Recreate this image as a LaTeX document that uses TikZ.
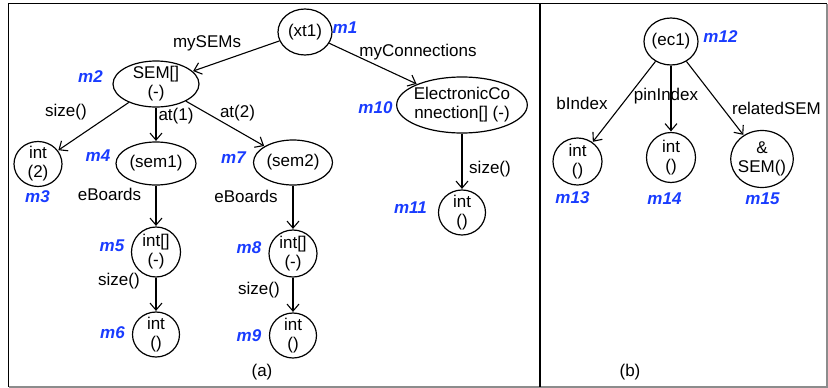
\documentclass[tikz,border=0pt]{standalone}
\usepackage{fontspec}
\setmainfont{Liberation Sans}
\usetikzlibrary{shapes.geometric,arrows.meta}
\definecolor{mblue}{RGB}{25,60,255}
\tikzset{
  obj/.style={ellipse, draw, line width=1.2pt, inner sep=-2pt, align=center,
              font=\fontsize{17}{19}\selectfont},
  lbl/.style={font=\fontsize{17}{19}\selectfont, inner sep=0pt},
  mlbl/.style={font=\fontsize{17}{19}\selectfont\bfseries\itshape, text=mblue, inner sep=0pt},
  conn/.style={draw, line width=1.1pt, -{Straight Barb[length=7pt,width=12pt,line width=1.1pt]}, shorten >=0.5pt}
}
\begin{document}
\begin{tikzpicture}[x=1pt,y=-1pt]
\useasboundingbox (0,0) rectangle (828,388);
% frame
\draw[line width=1.4pt] (8.5,387) -- (8.5,3.5) -- (827,3.5);
\draw[line width=1.2pt, black!45] (8.5,387) -- (827,387) -- (827,3.5);
\draw[line width=1.4pt] (540,3.5) -- (540,387);

% nodes (a)
\node[obj, minimum width=54pt, minimum height=46pt] (xt1) at (305,32) {(xt1)};
\node[obj, minimum width=86pt, minimum height=46pt] (sem) at (156,84) {SEM[]\\(-)};
\node[obj, minimum width=48pt, minimum height=45pt] (m3) at (38,164) {int\\(2)};
\node[obj, minimum width=80pt, minimum height=43pt] (sem1) at (156,163.5) {(sem1)};
\node[obj, minimum width=79pt, minimum height=45pt] (sem2) at (293,162.5) {(sem2)};
\node[obj, minimum width=49pt, minimum height=50pt] (m5) at (156,252) {int[]\\(-)};
\node[obj, minimum width=47pt, minimum height=45pt] (m6) at (156,334.5) {int\\()};
\node[obj, minimum width=48pt, minimum height=47pt] (m8) at (293,253.5) {int[]\\(-)};
\node[obj, minimum width=47pt, minimum height=45pt] (m9) at (293,335.5) {int\\()};
\node[obj, minimum width=130pt, minimum height=56pt] (ec) at (462,105) {ElectronicCo\\nnection[] (-)};
\node[obj, minimum width=47pt, minimum height=45pt] (m11) at (462,212.5) {int\\()};

% nodes (b)
\node[obj, minimum width=54pt, minimum height=47pt] (ec1) at (671,41.5) {(ec1)};
\node[obj, minimum width=49pt, minimum height=47pt] (m13) at (577.5,161.5) {int\\()};
\node[obj, minimum width=49pt, minimum height=50pt] (m14) at (671,157.5) {int\\()};
\node[obj, minimum width=62pt, minimum height=57pt] (m15) at (762,159) {\&\\SEM()};

% connectors
\draw[conn] (xt1) -- (sem);
\draw[conn] (xt1) -- (ec);
\draw[conn] (sem) -- (m3);
\draw[conn] (sem) -- (sem1);
\draw[conn] (sem) -- (sem2);
\draw[conn] (sem1) -- (m5);
\draw[conn] (m5) -- (m6);
\draw[conn] (sem2) -- (m8);
\draw[conn] (m8) -- (m9);
\draw[conn] (ec) -- (m11);
\draw[conn] (ec1) -- (m13);
\draw[conn] (ec1) -- (m14);
\draw[conn] (ec1) -- (m15);

% connector labels
\node[lbl] (l1) at (207,43) {mySEMs};
\node[lbl] (l2) at (418,52) {myConnections};
\node[lbl] (l3) at (66,112) {size()};
\node[lbl] (l4) at (176,116) {at(1)};
\node[lbl] (l5) at (237.5,113) {at(2)};
\node[lbl] (l6) at (109.5,194) {eBoards};
\node[lbl] (l7) at (246,196) {eBoards};
\node[lbl] (l8) at (119,281) {size()};
\node[lbl] (l9) at (259,290) {size()};
\node[lbl] (l10) at (490,169) {size()};
\node[lbl] (l11) at (582,103) {bIndex};
\node[lbl] (l12) at (666,96) {pinIndex};
\node[lbl] (l13) at (776.5,108) {relatedSEM};
\node[lbl] (ca) at (262,372) {(a)};
\node[lbl] (cb) at (630,372) {(b)};

% m labels
\node[mlbl] (t1) at (345,27.5) {m1};
\node[mlbl] (t2) at (90.5,77) {m2};
\node[mlbl] (t3) at (37.5,197) {m3};
\node[mlbl] (t4) at (98,156) {m4};
\node[mlbl] (t5) at (112,246) {m5};
\node[mlbl] (t6) at (112.5,332.5) {m6};
\node[mlbl] (t7) at (233.5,157.5) {m7};
\node[mlbl] (t8) at (249,247.5) {m8};
\node[mlbl] (t9) at (249,336) {m9};
\node[mlbl] (t10) at (375.5,107.5) {m10};
\node[mlbl] (t11) at (410.5,207.5) {m11};
\node[mlbl] (t12) at (720.5,36.5) {m12};
\node[mlbl] (t13) at (572.5,198) {m13};
\node[mlbl] (t14) at (664.5,199) {m14};
\node[mlbl] (t15) at (762.5,199) {m15};
\end{tikzpicture}
\end{document}
